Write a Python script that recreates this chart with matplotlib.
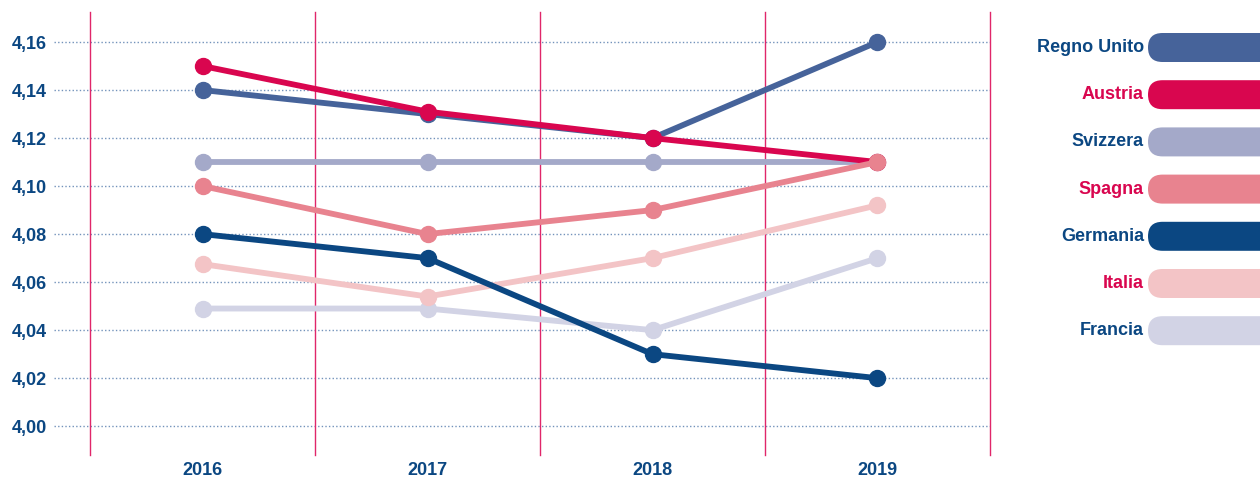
import matplotlib
matplotlib.use("Agg")
import matplotlib.pyplot as plt
from matplotlib.patches import FancyBboxPatch

# data
years = ["2016", "2017", "2018", "2019"]
countries = ["Regno Unito", "Austria", "Svizzera", "Spagna", "Germania", "Italia", "Francia"]
regno_unito = [4.14, 4.13, 4.12, 4.16]
austria = [4.15, 4.131, 4.12, 4.11]
svizzera = [4.11, 4.11, 4.11, 4.11]
spagna = [4.10, 4.08, 4.09, 4.11]
germania = [4.08, 4.07, 4.03, 4.02]
italia = [4.0675, 4.054, 4.07, 4.092]
francia = [4.049, 4.049, 4.04, 4.07]
yticks = [4.00, 4.02, 4.04, 4.06, 4.08, 4.10, 4.12, 4.14, 4.16]

values = {"Regno Unito": regno_unito, "Austria": austria, "Svizzera": svizzera,
          "Spagna": spagna, "Germania": germania, "Italia": italia, "Francia": francia}
colors = {"Regno Unito": "#46639a", "Austria": "#d9064f", "Svizzera": "#a4a9c9",
          "Spagna": "#e8838f", "Germania": "#0b4782", "Italia": "#f3c4c6",
          "Francia": "#d2d3e5"}
label_colors = {"Regno Unito": "#0b4782", "Austria": "#d9064f", "Svizzera": "#0b4782",
                "Spagna": "#d9064f", "Germania": "#0b4782", "Italia": "#d9064f",
                "Francia": "#0b4782"}

dark = "#0b4782"
font = ["Liberation Sans", "DejaVu Sans"]

W, H = 1260, 479
fig = plt.figure(figsize=(W / 100, H / 100), dpi=100)
ax = fig.add_axes([54 / W, 1 - 455 / H, (990 - 54) / W, (455 - 12) / H])

x = list(range(len(years)))

# dotted horizontal grid
for t in yticks:
    ax.axhline(t, color="#7393bb", lw=1, ls=(0, (1, 1.6)), zorder=1)
# red separators between years
for v in [-0.5, 0.5, 1.5, 2.5, 3.5]:
    ax.axvline(v, color="#e0266a", lw=1, zorder=1, clip_on=False)

order = ["Francia", "Italia", "Germania", "Regno Unito", "Svizzera", "Austria", "Spagna"]
for i, c in enumerate(order):
    ax.plot(x, values[c], color=colors[c], lw=4.2, marker="o", ms=11.5,
            solid_capstyle="round", zorder=3 + i)

ax.set_xlim(-0.66, 3.5)
ax.set_ylim(3.988, 4.1725)
ax.set_xticks(x)
ax.set_xticklabels(years)
ax.set_yticks(yticks)
ax.set_yticklabels([f"{t:.2f}".replace(".", ",") for t in yticks])
ax.tick_params(length=0, labelsize=13, colors=dark)
ax.tick_params(axis="x", pad=5)
ax.tick_params(axis="y", pad=5)
for lab in ax.get_xticklabels() + ax.get_yticklabels():
    lab.set_fontweight("bold")
    lab.set_family(font)
for s in ax.spines.values():
    s.set_visible(False)

# legend drawn by hand as rounded pills
lg = fig.add_axes([0, 0, 1, 1])
lg.set_xlim(0, W)
lg.set_ylim(H, 0)
lg.axis("off")
for i, c in enumerate(countries):
    yc = 47.5 + i * 47.2
    lg.add_patch(FancyBboxPatch((1148, yc - 14.5), 150, 29,
                                boxstyle="round,pad=0,rounding_size=14.5",
                                fc=colors[c], ec="none"))
    lg.text(1144, yc, c, ha="right", va="center", fontsize=13, fontweight="bold",
            color=label_colors[c], family=font)

fig.savefig("out.png", dpi=100)
